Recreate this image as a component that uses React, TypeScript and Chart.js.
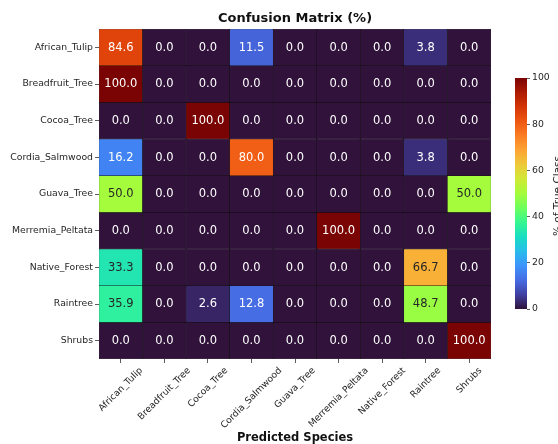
import React, { useEffect, useRef } from 'react';
import { Chart, registerables } from 'chart.js';

Chart.register(...registerables);

const TRUE_CLASSES = [
  'African_Tulip', 'Breadfruit_Tree', 'Cocoa_Tree', 'Cordia_Salmwood', 'Guava_Tree',
  'Merremia_Peltata', 'Native_Forest', 'Raintree', 'Shrubs',
];
const PREDICTED_CLASSES = [
  'African_Tulip', 'Breadfruit_Tree', 'Cocoa_Tree', 'Cordia_Salmwood', 'Guava_Tree',
  'Merremia_Peltata', 'Native_Forest', 'Raintree', 'Shrubs',
];

const ROW_AFRICAN_TULIP = [84.6, 0, 0, 11.5, 0, 0, 0, 3.8, 0];
const ROW_BREADFRUIT_TREE = [100, 0, 0, 0, 0, 0, 0, 0, 0];
const ROW_COCOA_TREE = [0, 0, 100, 0, 0, 0, 0, 0, 0];
const ROW_CORDIA_SALMWOOD = [16.2, 0, 0, 80.0, 0, 0, 0, 3.8, 0];
const ROW_GUAVA_TREE = [50.0, 0, 0, 0, 0, 0, 0, 0, 50.0];
const ROW_MERREMIA_PELTATA = [0, 0, 0, 0, 0, 100, 0, 0, 0];
const ROW_NATIVE_FOREST = [33.3, 0, 0, 0, 0, 0, 0, 66.7, 0];
const ROW_RAINTREE = [35.9, 0, 2.6, 12.8, 0, 0, 0, 48.7, 0];
const ROW_SHRUBS = [0, 0, 0, 0, 0, 0, 0, 0, 100];

const MATRIX = [
  ROW_AFRICAN_TULIP, ROW_BREADFRUIT_TREE, ROW_COCOA_TREE, ROW_CORDIA_SALMWOOD, ROW_GUAVA_TREE,
  ROW_MERREMIA_PELTATA, ROW_NATIVE_FOREST, ROW_RAINTREE, ROW_SHRUBS,
];

const COLORBAR_TICKS = [0, 20, 40, 60, 80, 100];
const TITLE = 'Confusion Matrix (%)';
const X_TITLE = 'Predicted Species';
const CB_TITLE = '% of True Class';

const FONT = "'DejaVu Sans', sans-serif";

// turbo colormap stops (every 1/16)
const TURBO = [
  [48, 18, 59], [64, 64, 162], [70, 107, 227], [62, 148, 252], [40, 188, 235],
  [24, 221, 194], [53, 246, 145], [109, 255, 92], [164, 252, 60], [207, 233, 54],
  [238, 201, 57], [253, 164, 52], [251, 125, 35], [238, 86, 17], [212, 53, 6],
  [173, 27, 2], [122, 4, 3],
];

function turboRGB(t: number): number[] {
  const c = Math.max(0, Math.min(1, t)) * (TURBO.length - 1);
  const i = Math.min(Math.floor(c), TURBO.length - 2);
  const f = c - i;
  const a = TURBO[i], b = TURBO[i + 1];
  return [0, 1, 2].map(k => Math.round(a[k] + (b[k] - a[k]) * f));
}
function turbo(t: number): string {
  const [r, g, b] = turboRGB(t);
  return `rgb(${r},${g},${b})`;
}
function textColor(v: number): string {
  const rgb = turboRGB(v / 100).map(c => {
    const s = c / 255;
    return s <= 0.03928 ? s / 12.92 : Math.pow((s + 0.055) / 1.055, 2.4);
  });
  const lum = 0.2126 * rgb[0] + 0.7152 * rgb[1] + 0.0722 * rgb[2];
  return lum > 0.408 ? '#262626' : '#ffffff';
}

const mainPlugin = {
  id: 'heatmapText',
  afterDatasetsDraw(chart: any) {
    const { ctx, scales } = chart;
    const x = scales.x, y = scales.y;
    ctx.save();
    ctx.font = `11.5px ${FONT}`;
    ctx.textAlign = 'center';
    ctx.textBaseline = 'middle';
    MATRIX.forEach((row, i) => {
      row.forEach((v, j) => {
        ctx.fillStyle = textColor(v);
        ctx.fillText(v.toFixed(1), x.getPixelForValue(j), y.getPixelForValue(i + 0.5) + 0.5);
      });
    });
    ctx.restore();
  },
  afterDraw(chart: any) {
    const { ctx, chartArea, scales } = chart;
    const x = scales.x;
    const cx = (chartArea.left + chartArea.right) / 2;
    ctx.save();
    ctx.fillStyle = '#111';
    ctx.font = `bold 13px ${FONT}`;
    ctx.textAlign = 'center';
    ctx.textBaseline = 'middle';
    ctx.fillText(TITLE, cx, 19);
    ctx.font = `bold 11.5px ${FONT}`;
    ctx.fillText(X_TITLE, cx, 438);
    ctx.font = `9.2px ${FONT}`;
    ctx.fillStyle = '#262626';
    PREDICTED_CLASSES.forEach((lab, j) => {
      const w = ctx.measureText(lab).width;
      const half = (w + 9) * 0.7071 / 2;
      const px = x.getPixelForValue(j);
      const py = chartArea.bottom + 7 + half;
      ctx.save();
      ctx.translate(px, py);
      ctx.rotate(-Math.PI / 4);
      ctx.fillText(lab, 0, 0);
      ctx.restore();
    });
    ctx.font = `10.5px ${FONT}`;
    ctx.fillStyle = '#262626';
    ctx.save();
    ctx.translate(561, 196);
    ctx.rotate(-Math.PI / 2);
    ctx.textBaseline = 'alphabetic';
    ctx.fillText(CB_TITLE, 0, 0);
    ctx.restore();
    ctx.restore();
  },
};

export default function App() {
  const mainRef = useRef<HTMLCanvasElement>(null);
  const cbRef = useRef<HTMLCanvasElement>(null);

  useEffect(() => {
    Chart.defaults.font.family = FONT;
    const main = new Chart(mainRef.current as HTMLCanvasElement, {
      type: 'bar',
      data: {
        labels: PREDICTED_CLASSES,
        datasets: TRUE_CLASSES.map((name, i) => ({
          label: name,
          data: PREDICTED_CLASSES.map(() => [i, i + 1]),
          backgroundColor: MATRIX[i].map(v => turbo(v / 100)),
          borderColor: 'rgba(0,0,0,0.85)',
          borderWidth: 0.5,
          borderSkipped: false,
          grouped: false,
          barPercentage: 1,
          categoryPercentage: 1,
        })) as any,
      },
      options: {
        responsive: false,
        animation: false,
        layout: { padding: { left: 0, top: 29, right: 67, bottom: 0 } },
        plugins: { legend: { display: false }, tooltip: { enabled: false }, title: { display: false } },
        scales: {
          x: {
            type: 'category',
            offset: true,
            grid: { display: true, drawOnChartArea: false, offset: false, tickLength: 4, color: '#333', lineWidth: 0.8 },
            border: { display: false },
            ticks: { display: false },
            afterFit: (s: any) => { s.height = 85; },
          },
          y: {
            type: 'linear',
            reverse: true,
            min: 0,
            max: 9,
            afterBuildTicks: (s: any) => { s.ticks = TRUE_CLASSES.map((_, i) => ({ value: i + 0.5 })); },
            ticks: {
              callback: (_v: any, idx: number) => TRUE_CLASSES[idx],
              font: { size: 9.3, family: FONT },
              color: '#262626',
              padding: 2,
            },
            grid: { display: true, drawOnChartArea: false, tickLength: 4, color: '#333', lineWidth: 0.8 },
            border: { display: false },
            afterFit: (s: any) => { s.width = 99; },
          },
        },
      } as any,
      plugins: [mainPlugin],
    });

    const cb = new Chart(cbRef.current as HTMLCanvasElement, {
      type: 'bar',
      data: {
        labels: [''],
        datasets: [{
          data: [[COLORBAR_TICKS[0], COLORBAR_TICKS[COLORBAR_TICKS.length - 1]]],
          backgroundColor: (c: any) => {
            const area = c.chart.chartArea;
            if (!area) return TURBO[0];
            const g = c.chart.ctx.createLinearGradient(0, area.bottom, 0, area.top);
            TURBO.forEach((col, k) => g.addColorStop(k / (TURBO.length - 1), `rgb(${col[0]},${col[1]},${col[2]})`));
            return g;
          },
          borderWidth: 0,
          barPercentage: 1,
          categoryPercentage: 1,
        }] as any,
      },
      options: {
        responsive: false,
        animation: false,
        layout: { padding: { left: 10, top: 10, right: 0, bottom: 11 } },
        plugins: { legend: { display: false }, tooltip: { enabled: false } },
        scales: {
          x: { display: false },
          y: {
            position: 'right',
            min: 0,
            max: 100,
            afterBuildTicks: (s: any) => { s.ticks = COLORBAR_TICKS.map(v => ({ value: v })); },
            ticks: { font: { size: 9.3, family: FONT }, color: '#262626', padding: 2 },
            grid: { display: true, drawOnChartArea: false, tickLength: 3, color: '#333', lineWidth: 0.8 },
            border: { display: false },
            afterFit: (s: any) => { s.width = 31; },
          },
        },
      } as any,
    });

    return () => { main.destroy(); cb.destroy(); };
  }, []);

  return (
    <div style={{ position: 'fixed', left: 0, top: 0, width: 558, height: 444, background: '#fff' }}>
      <canvas ref={mainRef} width={558} height={444} style={{ position: 'absolute', left: 0, top: 0 }} />
      <canvas ref={cbRef} width={53} height={252} style={{ position: 'absolute', left: 505, top: 68 }} />
    </div>
  );
}
